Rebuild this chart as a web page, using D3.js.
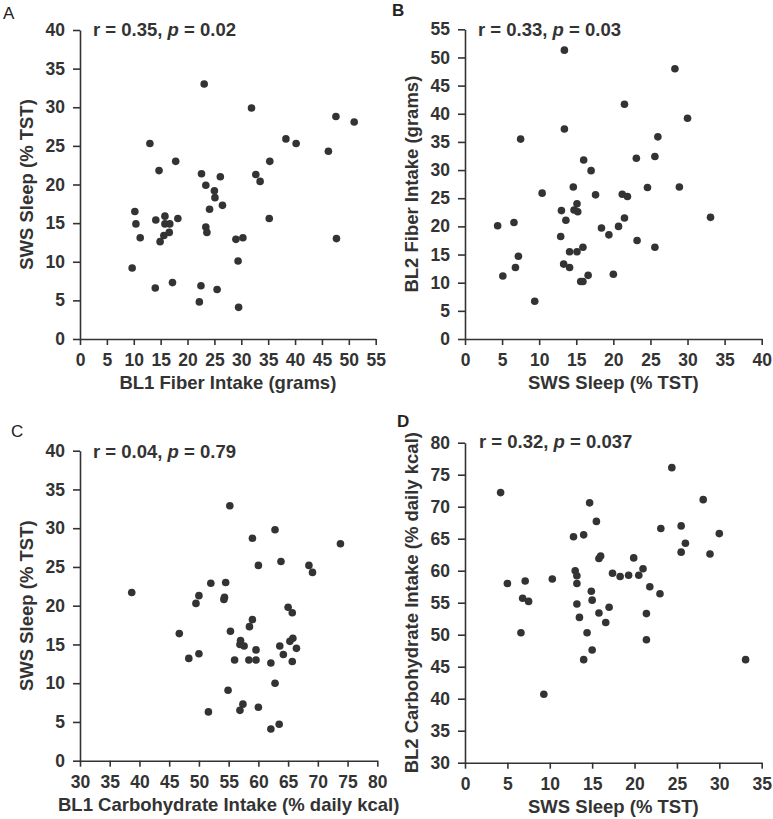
<!DOCTYPE html>
<html>
<head>
<meta charset="utf-8">
<script src="https://cdn.jsdelivr.net/npm/d3@7"></script>
<style>
  html, body { margin: 0; padding: 0; background: #fff; }
  svg { display: block; font-family: "Liberation Sans", Arial, sans-serif; }
  .axis path, .axis line { stroke: #333; stroke-width: 1.6; }
  .axis text { fill: #333; font-size: 17.5px; font-weight: bold; font-family: "Liberation Sans", Arial, sans-serif; }
  .title { fill: #333; font-size: 18.5px; font-weight: bold; }
  .note { fill: #333; font-size: 18.5px; font-weight: bold; }
  .letter { fill: #222; font-size: 17px; }
</style>
</head>
<body>
<svg id="chart" width="773" height="819"></svg>
<script>
// ---------- Data ----------
// Panel A: BL1 fiber intake (grams) vs SWS sleep (% TST)
const aFiber = [13.0,14.7,17.8,23.1,22.6,23.4,25.0,25.1,26.1,31.9,32.7,33.5,35.3,38.3,40.2,46.2,47.6,51.0,10.2,10.4,11.2,9.7,14.1,15.8,15.8,16.7,15.6,14.9,16.6,18.2,24.1,26.5,23.4,23.6,29.0,30.3,29.4,35.2,47.7,14.0,17.2,22.5,25.5,22.2,29.5];
const aSws   = [25.3,21.8,23.0,33.0,21.4,19.9,19.2,18.3,21.0,29.9,21.3,20.4,23.0,25.9,25.3,24.3,28.8,28.1,16.5,14.9,13.1,9.2,15.4,15.9,14.9,14.9,13.4,12.6,13.8,15.6,16.8,17.3,14.5,13.8,12.9,13.1,10.1,15.6,13.0,6.6,7.3,6.9,6.4,4.8,4.1];

// Panel B: SWS sleep (% TST) vs BL2 fiber intake (grams)
const bSws   = [13.4,28.3,21.5,30.0,13.4,7.5,26.0,23.1,25.6,16.0,17.0,14.6,24.6,28.9,10.4,17.6,21.2,21.9,15.1,13.0,14.7,15.2,13.6,4.4,6.6,21.5,33.1,18.4,19.4,20.7,12.9,23.2,25.6,7.2,14.1,15.1,15.9,13.3,14.1,6.8,5.1,15.6,15.9,16.6,20.0,9.4];
const bFiber = [51.3,48.0,41.7,39.2,37.3,35.5,35.9,32.1,32.4,31.8,29.9,27.0,26.9,27.0,25.9,25.6,25.7,25.3,24.0,22.8,22.9,22.6,21.1,20.1,20.7,21.5,21.6,19.7,18.5,20.0,18.2,17.5,16.3,14.7,15.5,15.5,16.3,13.3,12.7,12.7,11.2,10.2,10.2,11.3,11.5,6.7];

// Panel C: BL1 carbohydrate intake (% daily kcal) vs SWS sleep (% TST)
const cCarb = [38.7,55.2,62.8,59.0,73.8,63.8,60.0,68.5,69.1,52.0,54.5,50.0,49.5,54.3,54.2,65.0,65.7,59.0,58.5,46.7,55.3,57.0,56.9,57.6,65.3,65.8,63.6,66.4,59.6,48.3,50.0,56.0,58.4,59.6,64.2,62.1,65.7,62.8,54.9,51.6,56.9,57.4,60.0,62.1,63.5];
const cSws  = [21.7,32.9,29.8,28.7,28.0,25.7,25.2,25.2,24.3,22.9,23.0,21.3,20.3,21.1,20.8,19.8,19.1,18.2,17.3,16.4,16.7,15.5,15.0,14.8,15.4,15.8,14.8,14.5,14.3,13.2,13.8,13.0,13.0,13.0,13.7,12.6,12.8,10.0,9.1,6.3,6.5,7.3,6.9,4.1,4.7];

// Panel D: SWS sleep (% TST) vs BL2 carbohydrate intake (% daily kcal)
const dSws  = [4.2,24.4,28.1,14.7,15.5,23.1,25.5,30.0,12.8,14.0,26.0,25.5,28.9,16.0,15.8,19.9,13.0,13.2,13.2,21.0,17.4,18.3,19.3,20.5,10.3,5.0,7.1,21.8,23.0,14.9,6.8,7.5,15.0,13.2,17.0,15.8,21.4,13.5,16.6,6.6,14.4,21.4,15.0,14.0,33.1,9.3];
const dCarb = [72.2,76.1,71.1,70.6,67.7,66.6,67.0,65.8,65.3,65.6,64.3,62.9,62.6,62.3,61.9,62.0,60.0,59.2,58.0,60.3,59.6,59.1,59.3,59.3,58.7,58.0,58.4,57.5,56.4,56.8,55.7,55.2,55.4,54.8,54.3,53.4,53.3,52.7,51.9,50.3,50.3,49.2,47.6,46.1,46.1,40.7];

// Tick values
const ticksA_x = d3.range(0, 56, 5),  ticksA_y = d3.range(0, 41, 5);
const ticksB_x = d3.range(0, 41, 5),  ticksB_y = d3.range(0, 56, 5);
const ticksC_x = d3.range(30, 81, 5), ticksC_y = d3.range(0, 41, 5);
const ticksD_x = d3.range(0, 36, 5),  ticksD_y = d3.range(30, 81, 5);

// Labels
const titlesX = ["BL1 Fiber Intake (grams)", "SWS Sleep (% TST)", "BL1 Carbohydrate Intake (% daily kcal)", "SWS Sleep (% TST)"];
const titlesY = ["SWS Sleep (% TST)", "BL2 Fiber Intake (grams)", "SWS Sleep (% TST)", "BL2 Carbohydrate Intake (% daily kcal)"];
const notesR = ["0.35", "0.33", "0.04", "0.32"];
const notesP = ["0.02", "0.03", "0.79", "0.037"];
const letters = ["A", "B", "C", "D"];

// ---------- Layout (pixels) ----------
const panels = [
  { xs: aFiber, ys: aSws,  xd: [0, 55],  yd: [0, 40], xr: [80, 375.7],  yr: [339, 30],    tx: ticksA_x, ty: ticksA_y,
    letter: [3, 19, "normal"], note: [93, 36], ytx: 32.5 },
  { xs: bSws,   ys: bFiber, xd: [0, 40], yd: [0, 55], xr: [465, 761.7], yr: [339, 29.3],  tx: ticksB_x, ty: ticksB_y,
    letter: [392, 16, "bold"], note: [478, 36], ytx: 418 },
  { xs: cCarb,  ys: cSws,  xd: [30, 80], yd: [0, 40], xr: [80, 377.3],  yr: [760.7, 450.7], tx: ticksC_x, ty: ticksC_y,
    letter: [11, 437, "normal"], note: [93, 457.5], ytx: 32.5 },
  { xs: dSws,   ys: dCarb, xd: [0, 35],  yd: [30, 80], xr: [465, 761.7], yr: [762.7, 442.7], tx: ticksD_x, ty: ticksD_y,
    letter: [397, 427, "bold"], note: [479, 448], ytx: 418 }
];

const svg = d3.select("#chart");

panels.forEach((p, i) => {
  const g = svg.append("g");
  const x = d3.scaleLinear().domain(p.xd).range(p.xr);
  const y = d3.scaleLinear().domain(p.yd).range(p.yr);

  // axes
  g.append("g").attr("class", "axis")
    .attr("transform", `translate(0,${p.yr[0]})`)
    .call(d3.axisBottom(x).tickValues(p.tx).tickSize(6).tickSizeOuter(0).tickPadding(9).tickFormat(d3.format("d")));
  g.append("g").attr("class", "axis")
    .attr("transform", `translate(${p.xr[0]},0)`)
    .call(d3.axisLeft(y).tickValues(p.ty).tickSize(7).tickSizeOuter(0).tickPadding(8).tickFormat(d3.format("d")));

  // points
  g.append("g").selectAll("circle")
    .data(p.xs.map((v, k) => [v, p.ys[k]]))
    .join("circle")
    .attr("cx", d => x(d[0]))
    .attr("cy", d => y(d[1]))
    .attr("r", 3.8)
    .attr("fill", "#333");

  // axis titles
  g.append("text").attr("class", "title")
    .attr("x", (p.xr[0] + p.xr[1]) / 2)
    .attr("y", p.yr[0] + 50)
    .attr("text-anchor", "middle")
    .text(titlesX[i]);
  const yc = (p.yr[0] + p.yr[1]) / 2;
  g.append("text").attr("class", "title")
    .attr("transform", `translate(${p.ytx},${yc}) rotate(-90)`)
    .attr("text-anchor", "middle")
    .text(titlesY[i]);

  // correlation note
  const t = g.append("text").attr("class", "note")
    .attr("x", p.note[0]).attr("y", p.note[1]);
  t.append("tspan").text(`r = ${notesR[i]}, `);
  t.append("tspan").attr("font-style", "italic").text("p");
  t.append("tspan").text(` = ${notesP[i]}`);

  // panel letter
  g.append("text").attr("class", "letter")
    .attr("x", p.letter[0]).attr("y", p.letter[1])
    .attr("font-weight", p.letter[2])
    .text(letters[i]);
});
</script>
</body>
</html>
